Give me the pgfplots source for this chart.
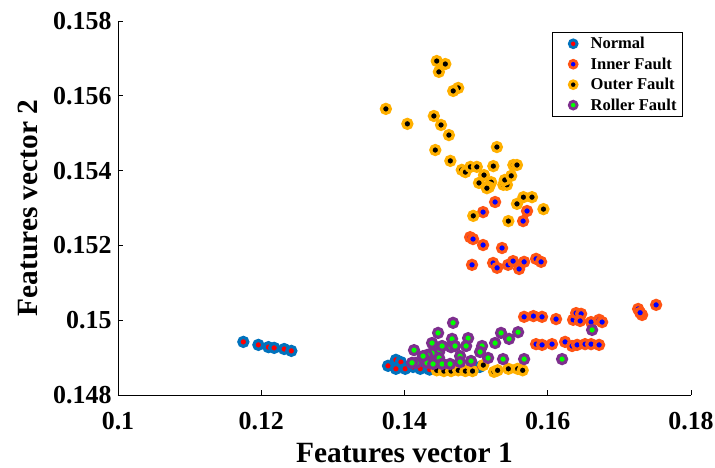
\documentclass[border=0pt]{standalone}
\usepackage{pgfplots}
\pgfplotsset{compat=1.18}
\usepackage{fontspec}
\setmainfont{Liberation Serif}
\definecolor{nblue}{rgb}{0,0.447,0.741}
\definecolor{iorange}{rgb}{1,0.33,0.08}
\definecolor{oyellow}{rgb}{1,0.69,0}
\definecolor{rpurple}{rgb}{0.494,0.184,0.556}
\pgfplotsset{
  mk/.style 2 args={only marks, mark=*, mark size=4.5bp, mark options={draw=#1, fill=#2, line width=3.2bp}},
}
\begin{document}
\begin{tikzpicture}
\begin{axis}[
  scale only axis, width=573bp, height=374bp,
  xmin=0.1, xmax=0.18, ymin=0.148, ymax=0.158,
  axis x line*=bottom, axis y line*=left,
  axis line style={line width=0.9bp, -},
  tick align=inside, major tick length=5bp,
  tick style={line width=0.8bp, black},
  xtick={0.1,0.12,0.14,0.16,0.18},
  xticklabels={0.1,0.12,0.14,0.16,0.18},
  ytick={0.148,0.15,0.152,0.154,0.156,0.158},
  yticklabels={0.148,0.15,0.152,0.154,0.156,0.158},
  ticklabel style={font=\bfseries\fontsize{26}{26}\selectfont},
  xticklabel shift=14bp, yticklabel shift=3bp,
  xlabel={Features vector 1}, ylabel={Features vector 2},
  label style={font=\bfseries\fontsize{29.5}{29.5}\selectfont},
  xlabel style={at={(axis description cs:0.5,-0.155)}, anchor=center},
  ylabel style={at={(axis description cs:-0.158,0.5)}, anchor=center, rotate=0},
  legend style={at={(0.986,0.971)}, anchor=north east, draw=black, line width=0.9bp,
    font=\bfseries\fontsize{16.6}{20}\selectfont, inner xsep=4bp, inner ysep=3bp,
    row sep=3.5bp},
  legend image code/.code={\path (0bp,0bp) (31bp,0bp); \draw[#1, mark size=3.9bp, every mark/.append style={line width=2.8bp}] plot coordinates {(16bp,0bp)};},
  legend cell align=left,
  clip=false,
]
\addplot[mk={nblue}{red}] table {
0.1175 0.14942
0.1196 0.14934
0.1210 0.14928
0.1218 0.14926
0.1232 0.14923
0.1242 0.14918
0.1377 0.14878
0.1388 0.14894
0.1395 0.14888
0.1388 0.14870
0.1401 0.14870
0.1412 0.14875
0.1422 0.14870
0.1435 0.14868
0.1450 0.14870
0.1465 0.14872
0.1478 0.14870
0.1490 0.14868
0.1505 0.14875
};
\addlegendentry{Normal}
\addplot[mk={iorange}{blue}] table {
0.15265 0.15316
0.15097 0.15289
0.15711 0.15292
0.15656 0.15265
0.14916 0.15222
0.14957 0.15217
0.15097 0.15201
0.15362 0.15193
0.14943 0.15148
0.15237 0.15153
0.15293 0.15140
0.15446 0.15148
0.15516 0.15158
0.15600 0.15137
0.15670 0.15156
0.15837 0.15164
0.15907 0.15156
0.1567 0.15009
0.1580 0.15011
0.1592 0.15009
0.16116 0.15003
0.16354 0.15001
0.16396 0.15019
0.16466 0.15017
0.16452 0.14998
0.16605 0.14995
0.16717 0.15001
0.16759 0.14995
0.17262 0.15030
0.17317 0.15014
0.17290 0.15020
0.17513 0.15041
0.15837 0.14936
0.15921 0.14934
0.1606 0.14936
0.16242 0.14942
0.1634 0.14931
0.1641 0.14934
0.16521 0.14936
0.16605 0.14936
0.16717 0.14934
};
\addlegendentry{Inner Fault}
\addplot[mk={oyellow}{black}] table {
0.1445 0.15693
0.1457 0.15685
0.1448 0.15664
0.1475 0.15621
0.1468 0.15613
0.1374 0.15565
0.1404 0.15525
0.1441 0.15546
0.1451 0.15522
0.1462 0.15495
0.1529 0.15463
0.1443 0.15455
0.1464 0.15426
0.1480 0.15402
0.1485 0.15396
0.1492 0.15410
0.1501 0.15410
0.1524 0.15412
0.1552 0.15415
0.1557 0.15415
0.1511 0.15388
0.1504 0.15367
0.1521 0.15369
0.1518 0.15356
0.1515 0.15353
0.1538 0.15362
0.1543 0.15362
0.1540 0.15375
0.1549 0.15386
0.1566 0.15329
0.1578 0.15329
0.1557 0.15311
0.1594 0.15297
0.1496 0.15279
0.1545 0.15265
0.1445 0.14866
0.1455 0.14864
0.1465 0.14864
0.1475 0.14866
0.1485 0.14864
0.1495 0.14864
0.1510 0.14880
0.1525 0.14862
0.1530 0.14866
0.1545 0.14870
0.1558 0.14870
0.1565 0.14866
};
\addlegendentry{Outer Fault}
\addplot[mk={rpurple}{green}] table {
0.14678 0.14993
0.14469 0.14966
0.14888 0.14952
0.14133 0.14920
0.15083 0.14931
0.15055 0.14915
0.15348 0.14966
0.15586 0.14968
0.15460 0.14950
0.15265 0.14939
0.15670 0.14896
0.15376 0.14896
0.15167 0.14899
0.14929 0.14891
0.14776 0.14904
0.14776 0.14888
0.14664 0.14950
0.14650 0.14928
0.14483 0.14915
0.14483 0.14899
0.14385 0.14912
0.14385 0.14939
0.14315 0.14907
0.14315 0.14886
0.14525 0.14883
0.14161 0.14886
0.14860 0.14931
0.14525 0.14931
0.14706 0.14931
0.14636 0.14883
0.14399 0.14883
0.14259 0.14904
0.14105 0.14886
0.16619 0.14974
0.16200 0.14896
};
\addlegendentry{Roller Fault}
\end{axis}
\pgfresetboundingbox
\path[use as bounding box] ([shift={(-118bp,-73bp)}]current axis.south west) rectangle ([shift={(24bp,21bp)}]current axis.north east);
\end{tikzpicture}
\end{document}
